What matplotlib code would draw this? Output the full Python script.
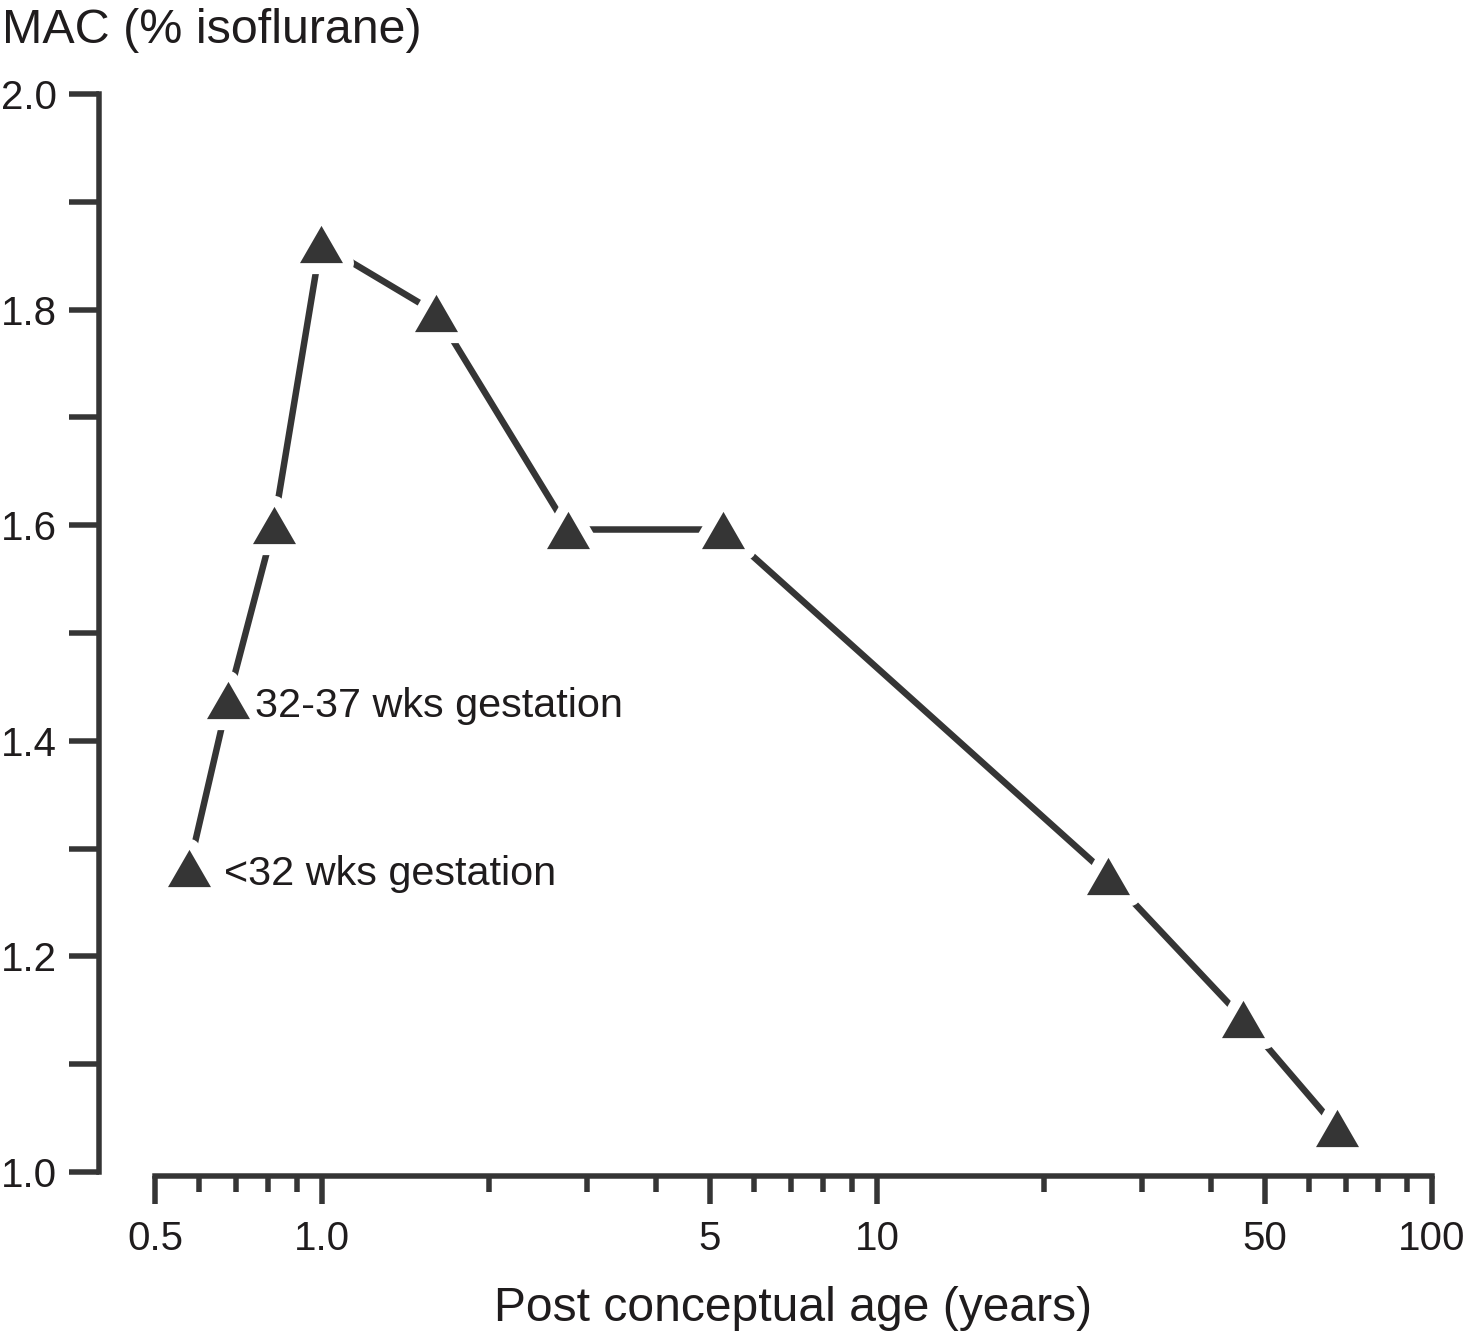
import numpy as np
import matplotlib.pyplot as plt
from matplotlib.path import Path
from matplotlib.markers import MarkerStyle
from matplotlib.ticker import FixedLocator, FixedFormatter, NullFormatter

plt.rcParams['font.family'] = ['Liberation Sans', 'DejaVu Sans']

# post conceptual age (years) and MAC (% isoflurane)
age = [0.576, 0.677, 0.819, 0.994, 1.606, 2.78, 5.28, 26.1, 45.7, 67.3]
mac = [1.282, 1.438, 1.600, 1.861, 1.797, 1.596, 1.596, 1.275, 1.142, 1.041]

x_major = [0.5, 1.0, 5, 10, 50, 100]
x_major_labels = ['0.5', '1.0', '5', '10', '50', '100']
x_minor = [0.6, 0.7, 0.8, 0.9, 2, 3, 4, 6, 7, 8, 9, 20, 30, 40, 60, 70, 80, 90]
y_major = [1.0, 1.2, 1.4, 1.6, 1.8, 2.0]
y_major_labels = ['1.0', '1.2', '1.4', '1.6', '1.8', '2.0']
y_minor = [1.1, 1.3, 1.5, 1.7, 1.9]

# point index -> note
notes = {0: '<32 wks gestation', 1: '32-37 wks gestation'}

dark = '#353535'
txt = '#1f1c1d'
px = 0.72  # points per pixel at dpi 100

W, H = 1464, 1333
fig = plt.figure(figsize=(W / 100, H / 100), dpi=100)
ax = fig.add_axes([155 / W, 1 - 1172 / H, (1432 - 155) / W, (1172 - 94) / H])

# equilateral triangle, centred on its bounding box
tri = Path([(0, 0.866), (-1, -0.866), (1, -0.866), (0, 0.866)],
           [Path.MOVETO, Path.LINETO, Path.LINETO, Path.CLOSEPOLY])
ms = 43 * px

ax.plot(age, mac, color=dark, lw=6.5 * px, solid_capstyle='butt', zorder=2)
# white halo that opens a gap in the line around each marker
ax.plot(age, mac, ls='none', marker=MarkerStyle(tri, joinstyle='round'),
        ms=ms, mfc='white', mec='white', mew=22 * px, zorder=3, clip_on=False)
ax.plot(age, mac, ls='none', marker=tri, ms=ms, mfc=dark, mec='none',
        zorder=4, clip_on=False)

note_dx = {0: 35, 1: 27}
for i, s in notes.items():
    ax.annotate(s, (age[i], mac[i]), xytext=(note_dx[i] * px, -17 * px),
                textcoords='offset points', ha='left', va='baseline',
                fontsize=29.8, color=txt)

ax.set_xscale('log')
ax.set_xlim(0.5, 100)
ax.set_ylim(1.0, 2.0)

ax.xaxis.set_major_locator(FixedLocator(x_major))
ax.xaxis.set_major_formatter(FixedFormatter(x_major_labels))
ax.xaxis.set_minor_locator(FixedLocator(x_minor))
ax.xaxis.set_minor_formatter(NullFormatter())
ax.yaxis.set_major_locator(FixedLocator(y_major))
ax.yaxis.set_major_formatter(FixedFormatter(y_major_labels))
ax.yaxis.set_minor_locator(FixedLocator(y_minor))

for side in ['top', 'right']:
    ax.spines[side].set_visible(False)
ax.spines['left'].set_position(('outward', 56 * px))
ax.spines['bottom'].set_position(('outward', 4 * px))
for side in ['left', 'bottom']:
    ax.spines[side].set_linewidth(5.5 * px)
    ax.spines[side].set_color(dark)

ax.tick_params(axis='x', which='major', length=28 * px, width=5.5 * px,
               color=dark, pad=16 * px, labelsize=29, labelcolor=txt)
ax.tick_params(axis='x', which='minor', length=16 * px, width=5.5 * px,
               color=dark)
ax.tick_params(axis='y', which='both', length=30 * px, width=5.5 * px,
               color=dark, pad=12 * px, labelsize=29, labelcolor=txt)

ax.set_xlabel('Post conceptual age (years)', fontsize=34.6, color=txt,
              labelpad=20)
fig.text(2 / W, 1 - 43 / H, 'MAC (% isoflurane)', fontsize=34.8, color=txt,
         ha='left', va='baseline')

fig.savefig('out.png', dpi=100)
